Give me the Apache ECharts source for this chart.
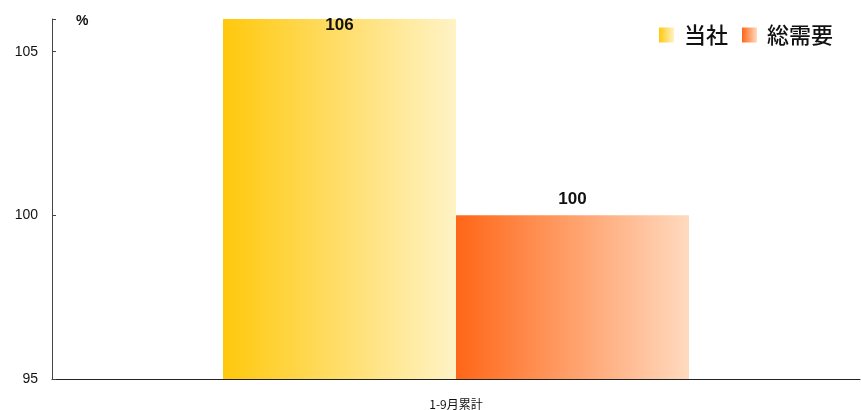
<!DOCTYPE html>
<html>
<head>
<meta charset="utf-8">
<script src="https://cdn.jsdelivr.net/npm/echarts@6/dist/echarts.min.js"></script>
<style>
  html, body { margin: 0; padding: 0; background: #fff; }
  #chart { width: 861px; height: 410px; }
</style>
</head>
<body>
<div id="chart"></div>
<script>
// Cumulative Jan–Sep index (%), company vs. total market demand
const categories = ['1-9月累計'];
const seriesNames = ['当社', '総需要'];
const companyValues = [106];
const totalDemandValues = [100];
const yTicks = [95, 100, 105];

function hGrad(from, to) {
  return new echarts.graphic.LinearGradient(0, 0, 1, 0, [
    { offset: 0, color: from },
    { offset: 1, color: to }
  ]);
}

const chart = echarts.init(document.getElementById('chart'));
chart.setOption({
  animation: false,
  textStyle: { fontFamily: 'Liberation Sans, Arial, sans-serif' },
  grid: { left: 52, right: 1, top: 19, bottom: 30, containLabel: false },
  legend: {
    right: 23, top: 19,
    icon: 'rect',
    itemWidth: 15, itemHeight: 15, itemGap: 14,
    textStyle: {
      fontSize: 22, color: '#111', fontWeight: 500,
      fontFamily: 'Noto Sans CJK JP', padding: [0, 0, 0, 5]
    },
    data: seriesNames
  },
  xAxis: {
    type: 'category',
    data: categories,
    axisLine: { lineStyle: { color: '#222', width: 1 } },
    axisTick: { show: false },
    axisLabel: { fontSize: 12, color: '#111', margin: 19, fontFamily: 'Noto Sans CJK JP' }
  },
  yAxis: {
    type: 'value',
    min: 95, max: 106, interval: 5,
    name: '%',
    nameLocation: 'end',
    nameGap: -9,
    nameTextStyle: { fontSize: 14, color: '#111', fontWeight: 'bold', align: 'left', padding: [0, 0, 0, 24] },
    axisLine: { show: true, lineStyle: { color: '#444', width: 1 } },
    axisTick: { show: true, inside: true, length: 4, lineStyle: { color: '#444' } },
    axisLabel: {
      fontSize: 14, color: '#111', margin: 14,
      formatter: v => (yTicks.includes(v) ? String(v) : '')
    },
    splitLine: { show: false }
  },
  series: [
    {
      name: seriesNames[0],
      type: 'bar',
      barWidth: 233,
      barGap: '0%',
      itemStyle: { color: hGrad('#FFC80C', '#FFF3C6') },
      label: {
        show: true, position: 'insideTop', distance: -2,
        fontSize: 17, fontWeight: 'bold', color: '#111'
      },
      data: companyValues
    },
    {
      name: seriesNames[1],
      type: 'bar',
      barWidth: 233,
      barGap: '0%',
      itemStyle: { color: hGrad('#FF6617', '#FFDABF') },
      label: {
        show: true, position: 'top', distance: 8,
        fontSize: 17, fontWeight: 'bold', color: '#111'
      },
      data: totalDemandValues
    }
  ]
});
</script>
</body>
</html>
